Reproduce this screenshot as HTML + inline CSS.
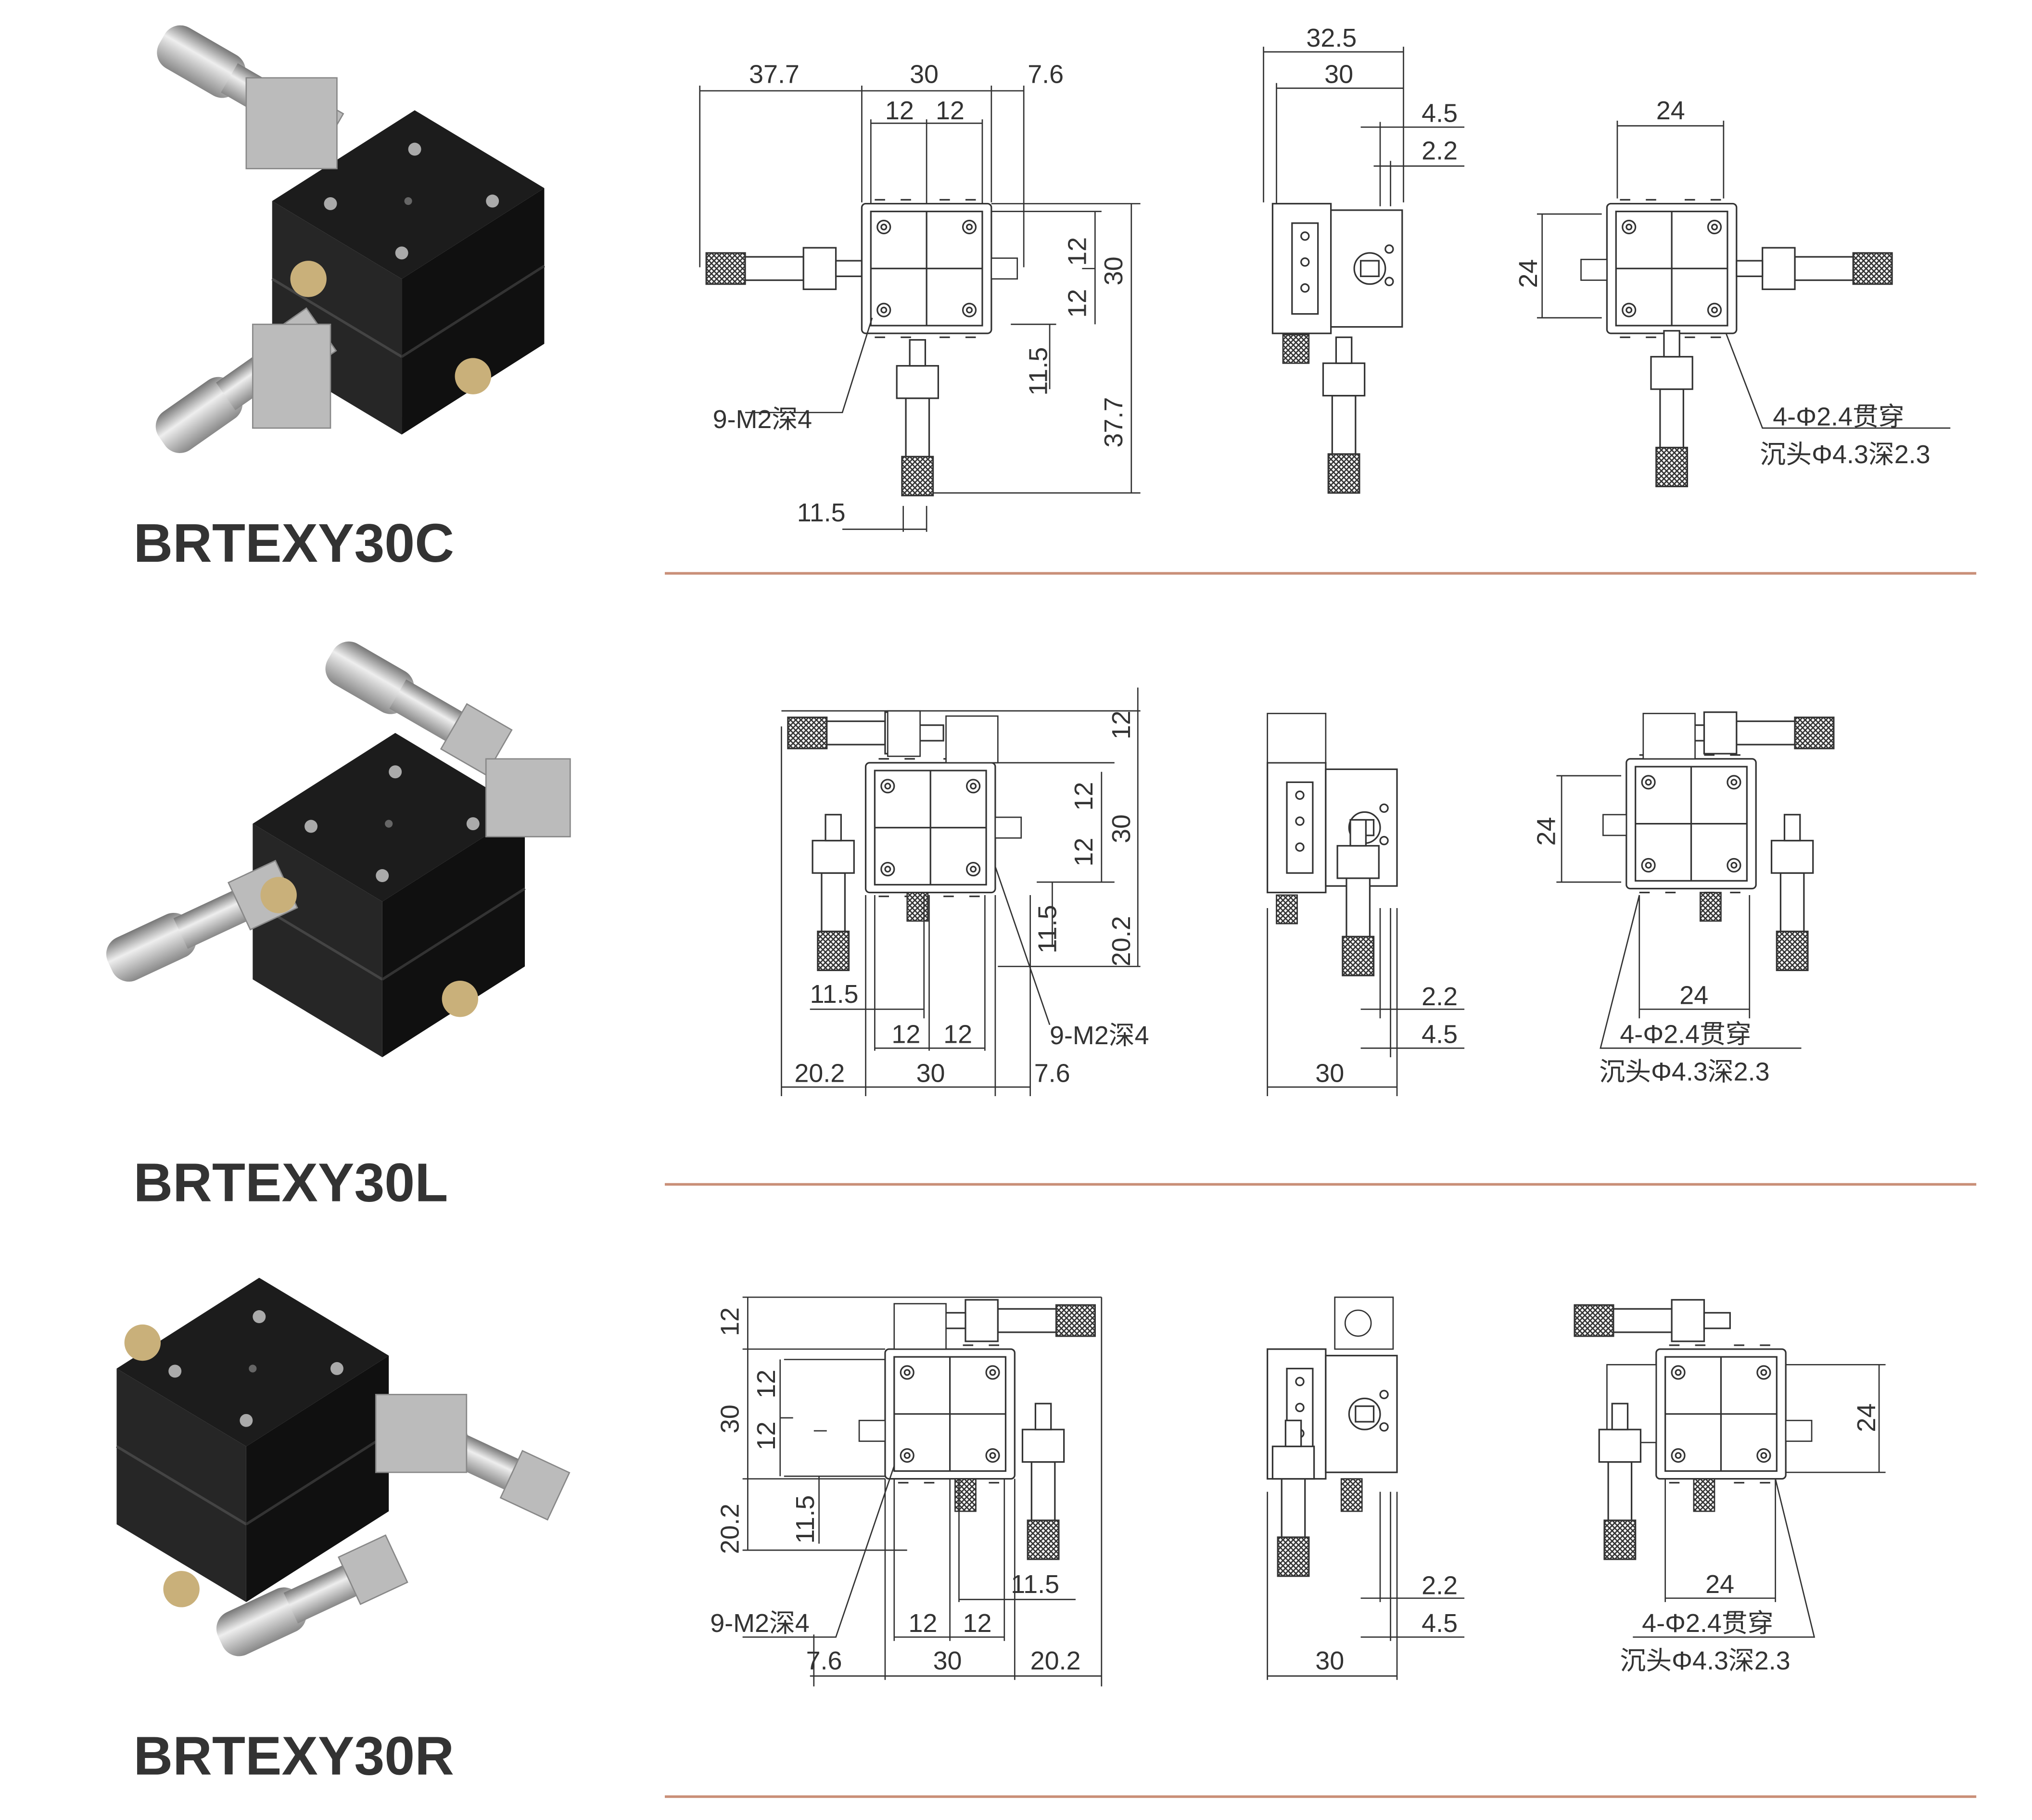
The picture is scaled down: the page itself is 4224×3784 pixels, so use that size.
<!DOCTYPE html>
<html><head><meta charset="utf-8"><style>
html,body{margin:0;padding:0;background:#fff;}
svg{display:block;}
text{font-family:"Liberation Sans","Noto Sans CJK SC",sans-serif;fill:#333;}
.d text{font-size:20px;}
</style></head><body>
<svg width="4224" height="3784" viewBox="0 0 1568 1403" preserveAspectRatio="none" xmlns="http://www.w3.org/2000/svg">
<defs>
<pattern id="kn" width="4" height="4" patternUnits="userSpaceOnUse"><rect width="4" height="4" fill="#fff"/><path d="M0 0L4 4M4 0L0 4" stroke="#333" stroke-width="1"/></pattern>
<linearGradient id="met" x1="0" y1="0" x2="0" y2="1"><stop offset="0" stop-color="#777"/><stop offset=".4" stop-color="#eee"/><stop offset="1" stop-color="#888"/></linearGradient>
<g id="mh" fill="#fff" stroke="#333" stroke-width="1.2">
<rect x="0" y="-12" width="30" height="24" fill="url(#kn)"/>
<rect x="30" y="-9" width="45" height="18"/>
<rect x="75" y="-16" width="25" height="32"/>
<rect x="100" y="-6" width="20" height="12"/>
</g>
<g id="blk" fill="#fff" stroke="#333" stroke-width="1.2">
<rect x="0" y="0" width="100" height="100" rx="3"/>
<rect x="7" y="6" width="86" height="88"/>
<line x1="50" y1="6" x2="50" y2="94"/><line x1="7" y1="50" x2="93" y2="50"/>
<circle cx="17" cy="18" r="5"/><circle cx="83" cy="18" r="5"/><circle cx="17" cy="82" r="5"/><circle cx="83" cy="82" r="5"/>
<circle cx="17" cy="18" r="2"/><circle cx="83" cy="18" r="2"/><circle cx="17" cy="82" r="2"/><circle cx="83" cy="82" r="2"/>
<path d="M10 -3h8M30 -3h8M60 -3h8M80 -3h8M10 103h8M30 103h8M60 103h8M80 103h8"/>
</g>
<g id="side" fill="#fff" stroke="#333" stroke-width="1.2">
<rect x="0" y="0" width="45" height="100"/><rect x="45" y="5" width="55" height="90"/>
<rect x="15" y="15" width="20" height="70"/><circle cx="75" cy="50" r="12"/><rect x="68" y="44" width="14" height="12"/>
<circle cx="25" cy="25" r="3"/><circle cx="25" cy="45" r="3"/><circle cx="25" cy="65" r="3"/><circle cx="90" cy="35" r="3"/><circle cx="90" cy="60" r="3"/>
</g>
<g id="cube">
<polygon points="0,70 110,0 210,60 100,130" fill="#1c1c1c"/>
<polygon points="0,70 100,130 100,250 0,190" fill="#262626"/>
<polygon points="100,130 210,60 210,180 100,250" fill="#101010"/>
<line x1="0" y1="130" x2="100" y2="190" stroke="#444" stroke-width="2"/>
<line x1="100" y1="190" x2="210" y2="120" stroke="#333" stroke-width="2"/>
<circle cx="45" cy="72" r="5" fill="#aaa"/><circle cx="110" cy="30" r="5" fill="#aaa"/><circle cx="170" cy="70" r="5" fill="#aaa"/><circle cx="100" cy="110" r="5" fill="#aaa"/><circle cx="105" cy="70" r="3" fill="#666"/>
</g>
<g id="mic">
<rect x="0" y="-18" width="70" height="36" rx="14" fill="url(#met)"/>
<rect x="60" y="-13" width="60" height="26" fill="url(#met)"/>
<rect x="110" y="-20" width="40" height="40" fill="#bbb" stroke="#888"/>
</g>
</defs>
<rect width="1568" height="1403" fill="#fff"/>

<!-- photos -->
<g transform="translate(210,85)"><use href="#cube"/></g>
<g transform="translate(125,30) rotate(30)"><use href="#mic"/></g>
<g transform="translate(125,340) rotate(-35)"><use href="#mic"/></g>
<rect x="190" y="60" width="70" height="70" fill="#bbb" stroke="#888"/>
<rect x="195" y="250" width="60" height="80" fill="#bbb" stroke="#888"/>
<circle cx="238" cy="215" r="14" fill="#c9b07a"/><circle cx="365" cy="290" r="14" fill="#c9b07a"/>

<g transform="translate(195,565)"><use href="#cube"/></g>
<g transform="translate(255,505) rotate(30)"><use href="#mic"/></g>
<g transform="translate(85,745) rotate(-25)"><use href="#mic"/></g>
<rect x="375" y="585" width="65" height="60" fill="#bbb" stroke="#888"/>
<circle cx="215" cy="690" r="14" fill="#c9b07a"/><circle cx="355" cy="770" r="14" fill="#c9b07a"/>

<g transform="translate(90,985)"><use href="#cube"/></g>
<g transform="translate(295,1090) rotate(25)"><use href="#mic"/></g>
<g transform="translate(170,1265) rotate(-25)"><use href="#mic"/></g>
<rect x="290" y="1075" width="70" height="60" fill="#bbb" stroke="#888"/>
<circle cx="110" cy="1035" r="14" fill="#c9b07a"/><circle cx="140" cy="1225" r="14" fill="#c9b07a"/>

<text x="103" y="433" font-size="42" font-weight="bold" fill="#444">BRTEXY30C</text>
<text x="103" y="926" font-size="42" font-weight="bold" fill="#444">BRTEXY30L</text>
<text x="103" y="1368" font-size="42" font-weight="bold" fill="#444">BRTEXY30R</text>

<g stroke="#c98f78" stroke-width="2"><line x1="513" y1="442" x2="1525" y2="442"/><line x1="513" y1="913" x2="1525" y2="913"/><line x1="513" y1="1385" x2="1525" y2="1385"/></g>

<g class="d" stroke-width="1">
<!-- ROW 1 -->
<use href="#mh" transform="translate(545,207)"/>
<use href="#blk" x="665" y="157"/>
<rect x="765" y="199" width="20" height="16" fill="#fff" stroke="#333"/>
<use href="#mh" transform="translate(708,382) rotate(-90)"/>
<g stroke="#333" fill="none">
<path d="M540 70H790M540 66v140M665 66v90M765 66v90M790 66v140M672 95H758M672 92v65M715 92v65M758 92v65"/>
<path d="M765 157H880M873 157V380M765 163H850M845 163V250M845 207h-10M780 250H815M810 250V300M720 380H880M650 408H715M697 390v20M715 390v20"/>
<path d="M975 40H1083M985 68H1083M975 36v120M985 64v95M1083 36v120M1050 98H1130M1060 128H1130M1065 94v65M1073 124v35"/>
<path d="M1248 97H1330M1248 93v60M1330 93v60M1190 165V245M1186 165h50M1186 245h50M1330 252L1360 330H1505"/>
<path d="M575 318H650L673 245"/>
</g>
<text x="578" y="64">37.7</text><text x="702" y="64">30</text><text x="793" y="64">7.6</text>
<text x="683" y="92">12</text><text x="722" y="92">12</text>
<text transform="translate(866,220) rotate(-90)">30</text>
<text transform="translate(838,205) rotate(-90)">12</text><text transform="translate(838,245) rotate(-90)">12</text>
<text transform="translate(808,305) rotate(-90)">11.5</text><text transform="translate(866,345) rotate(-90)">37.7</text>
<text x="550" y="330">9-M2深4</text><text x="615" y="402">11.5</text>
<use href="#side" x="982" y="157"/>
<use href="#mh" transform="translate(1037,380) rotate(-90)"/>
<rect x="990" y="258" width="20" height="22" fill="url(#kn)" stroke="#333"/>
<text x="1008" y="36">32.5</text><text x="1022" y="64">30</text><text x="1097" y="94">4.5</text><text x="1097" y="123">2.2</text>
<use href="#blk" x="1240" y="157"/>
<use href="#mh" transform="translate(1460,207) rotate(180)"/>
<rect x="1220" y="200" width="20" height="16" fill="#fff" stroke="#333"/>
<use href="#mh" transform="translate(1290,375) rotate(-90)"/>
<text x="1278" y="92">24</text><text transform="translate(1186,222) rotate(-90)">24</text>
<text x="1368" y="328">4-Φ2.4贯穿</text><text x="1358" y="357">沉头Φ4.3深2.3</text>

<!-- ROW 2 -->
<use href="#blk" x="668" y="588"/>
<use href="#mh" transform="translate(608,565)"/>
<rect x="685" y="548" width="25" height="35" fill="#fff" stroke="#333"/>
<rect x="730" y="552" width="40" height="36" fill="#fff" stroke="#333"/>
<use href="#mh" transform="translate(643,748) rotate(-90)"/>
<rect x="768" y="630" width="20" height="16" fill="#fff" stroke="#333"/>
<rect x="700" y="688" width="16" height="22" fill="url(#kn)" stroke="#333"/>
<g stroke="#333" fill="none">
<path d="M603 548H880M878 530V745M768 588H860M850 595V680M800 680H860M812 680V730M770 745H880"/>
<path d="M603 838H795M603 560v285M668 690v155M768 690v155M795 690v155M675 808H760M675 690v120M717 690v120M760 690v120M625 778H713M713 690v95"/>
<path d="M768 668L810 790"/>
<path d="M978 838H1078M978 700v145M1078 700v145M1050 778H1130M1050 808H1130M1065 700v85M1073 700v115"/>
<path d="M1205 598V680M1201 598h50M1201 680h50M1265 778H1350M1265 690v95M1350 690v95M1265 690L1235 808H1390"/>
</g>
<text transform="translate(872,570) rotate(-90)">12</text><text transform="translate(872,650) rotate(-90)">30</text>
<text transform="translate(843,625) rotate(-90)">12</text><text transform="translate(843,668) rotate(-90)">12</text>
<text transform="translate(815,735) rotate(-90)">11.5</text><text transform="translate(872,745) rotate(-90)">20.2</text>
<text x="625" y="773">11.5</text><text x="688" y="804">12</text><text x="728" y="804">12</text>
<text x="810" y="805">9-M2深4</text>
<text x="613" y="834">20.2</text><text x="707" y="834">30</text><text x="798" y="834">7.6</text>
<use href="#side" x="978" y="588"/>
<rect x="978" y="550" width="45" height="38" fill="#fff" stroke="#333"/>
<use href="#mh" transform="translate(1048,752) rotate(-90)"/>
<rect x="985" y="690" width="16" height="22" fill="url(#kn)" stroke="#333"/>
<text x="1097" y="775">2.2</text><text x="1097" y="804">4.5</text><text x="1015" y="834">30</text>
<use href="#blk" x="1255" y="585"/>
<use href="#mh" transform="translate(1415,565) rotate(180)"/>
<rect x="1268" y="550" width="40" height="35" fill="#fff" stroke="#333"/>
<rect x="1237" y="628" width="18" height="16" fill="#fff" stroke="#333"/>
<use href="#mh" transform="translate(1383,748) rotate(-90)"/>
<rect x="1312" y="688" width="16" height="22" fill="url(#kn)" stroke="#333"/>
<text transform="translate(1200,652) rotate(-90)">24</text><text x="1296" y="774">24</text>
<text x="1250" y="804">4-Φ2.4贯穿</text><text x="1234" y="833">沉头Φ4.3深2.3</text>

<!-- ROW 3 -->
<use href="#blk" x="683" y="1040"/>
<use href="#mh" transform="translate(845,1018) rotate(180)"/>
<rect x="690" y="1005" width="40" height="35" fill="#fff" stroke="#333"/>
<use href="#mh" transform="translate(805,1202) rotate(-90)"/>
<rect x="663" y="1095" width="20" height="16" fill="#fff" stroke="#333"/>
<rect x="737" y="1140" width="16" height="25" fill="url(#kn)" stroke="#333"/>
<g stroke="#333" fill="none">
<path d="M573 1000H850M573 1040H683M573 1140H683M573 1195H700M577 1000V1195M605 1048H683M605 1138H683M602 1048V1138M602 1093h10M632 1138V1190M628 1103h10"/>
<path d="M625 1292H850M628 1260v40M683 1140v155M783 1140v155M850 1000v300M690 1262H775M690 1140v125M733 1140v125M775 1140v125M740 1233H830M740 1140v95"/>
<path d="M573 1262H645L690 1130"/>
<path d="M978 1292H1078M978 1150v145M1078 1150v145M1050 1232H1130M1050 1262H1130M1065 1150v85M1073 1150v115"/>
<path d="M1378 1052H1455M1378 1135H1455M1450 1052V1135M1285 1232H1370M1285 1140v95M1370 1140v95M1370 1140L1400 1262H1260"/>
</g>
<text transform="translate(570,1030) rotate(-90)">12</text><text transform="translate(570,1105) rotate(-90)">30</text>
<text transform="translate(598,1078) rotate(-90)">12</text><text transform="translate(598,1118) rotate(-90)">12</text>
<text transform="translate(628,1190) rotate(-90)">11.5</text><text transform="translate(570,1198) rotate(-90)">20.2</text>
<text x="780" y="1228">11.5</text><text x="548" y="1258">9-M2深4</text>
<text x="701" y="1258">12</text><text x="743" y="1258">12</text>
<text x="622" y="1287">7.6</text><text x="720" y="1287">30</text><text x="795" y="1287">20.2</text>
<use href="#side" x="978" y="1040"/>
<rect x="1030" y="1000" width="45" height="40" fill="#fff" stroke="#333"/><circle cx="1048" cy="1020" r="10" fill="#fff" stroke="#333"/>
<use href="#mh" transform="translate(998,1215) rotate(-90)"/>
<rect x="1035" y="1140" width="16" height="25" fill="url(#kn)" stroke="#333"/>
<text x="1097" y="1229">2.2</text><text x="1097" y="1258">4.5</text><text x="1015" y="1287">30</text>
<use href="#blk" x="1278" y="1040"/>
<use href="#mh" transform="translate(1215,1018)"/>
<rect x="1240" y="1052" width="38" height="60" fill="#fff" stroke="#333"/>
<rect x="1378" y="1095" width="20" height="16" fill="#fff" stroke="#333"/>
<use href="#mh" transform="translate(1250,1202) rotate(-90)"/>
<rect x="1307" y="1140" width="16" height="25" fill="url(#kn)" stroke="#333"/>
<text transform="translate(1447,1104) rotate(-90)">24</text><text x="1316" y="1228">24</text>
<text x="1267" y="1258">4-Φ2.4贯穿</text><text x="1250" y="1287">沉头Φ4.3深2.3</text>
</g>
</svg>
</body></html>
